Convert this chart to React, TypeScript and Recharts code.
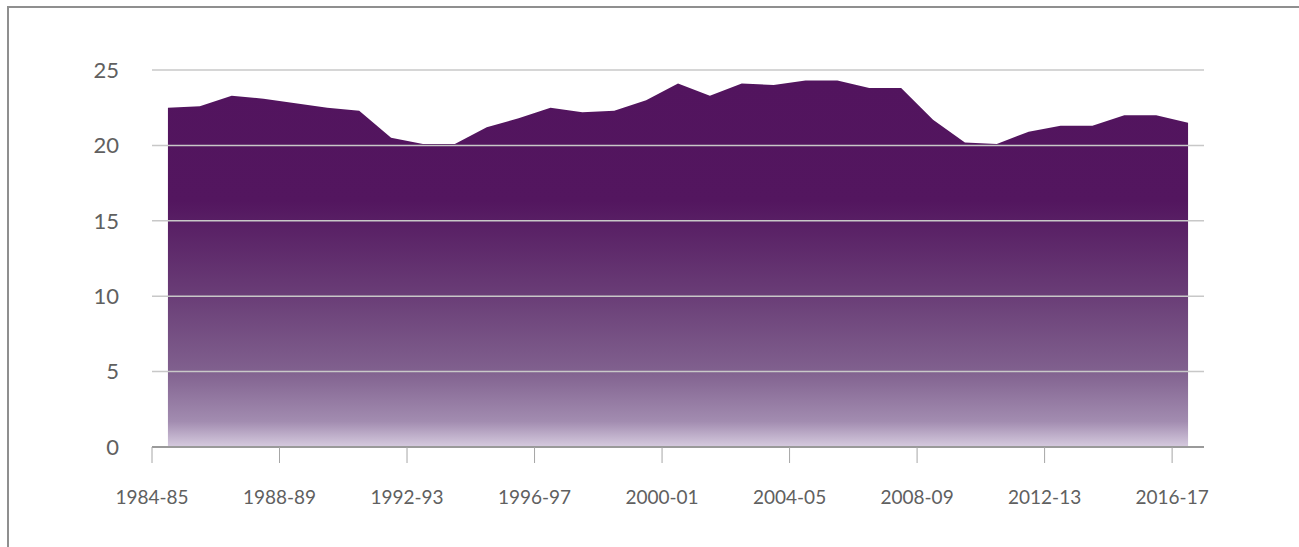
import React from 'react';
import { AreaChart, Area, XAxis, YAxis, ReferenceLine } from 'recharts';

const YEARS = [
  '1984-85', '1985-86', '1986-87', '1987-88', '1988-89', '1989-90', '1990-91', '1991-92',
  '1992-93', '1993-94', '1994-95', '1995-96', '1996-97', '1997-98', '1998-99', '1999-00',
  '2000-01', '2001-02', '2002-03', '2003-04', '2004-05', '2005-06', '2006-07', '2007-08',
  '2008-09', '2009-10', '2010-11', '2011-12', '2012-13', '2013-14', '2014-15', '2015-16',
  '2016-17',
];

const VALUES = [
  22.5, 22.6, 23.3, 23.1, 22.8, 22.5, 22.3, 20.5,
  20.1, 20.1, 21.2, 21.8, 22.5, 22.2, 22.3, 23.0,
  24.1, 23.3, 24.1, 24.0, 24.3, 24.3, 23.8, 23.8,
  21.7, 20.2, 20.1, 20.9, 21.3, 21.3, 22.0, 22.0,
  21.5,
];

const Y_TICKS = [0, 5, 10, 15, 20, 25];
// ticks sit on category boundaries, every fourth year
const X_TICKS = [-0.5, 3.5, 7.5, 11.5, 15.5, 19.5, 23.5, 27.5, 31.5];

const data = YEARS.map((year, i) => ({ idx: i, year, value: VALUES[i] }));

const FONT = 'Lato, "Open Sans", sans-serif';

export default function App() {
  return (
    <div style={{ position: 'absolute', left: 0, top: 0, width: 1299, height: 547, background: '#fff', overflow: 'hidden' }}>
      <div
        style={{
          position: 'absolute',
          left: 7,
          top: 6,
          right: 0,
          bottom: 0,
          borderTop: '2px solid #8f8f8f',
          borderLeft: '2px solid #8f8f8f',
        }}
      />
      <div style={{ position: 'absolute', left: 0, top: 0 }}>
        <AreaChart width={1299} height={547} data={data} margin={{ top: 70, right: 95, left: 0, bottom: 0 }}>
          <defs>
            <linearGradient id="areaFill" x1="0" y1="0" x2="0" y2="1">
              <stop offset="0%" stopColor="#52145e" />
              <stop offset="33%" stopColor="#53165f" />
              <stop offset="59%" stopColor="#6a3e77" />
              <stop offset="79%" stopColor="#80608e" />
              <stop offset="93%" stopColor="#a28cb0" />
              <stop offset="100%" stopColor="#d6cbdf" />
            </linearGradient>
          </defs>
          <XAxis
            type="number"
            dataKey="idx"
            domain={[-0.5, 32.5]}
            ticks={X_TICKS}
            interval={0}
            tickFormatter={(v: number) => YEARS[Math.round(v + 0.5)]}
            height={100}
            axisLine={{ stroke: '#9a9a9a', strokeWidth: 2 }}
            tickLine={{ stroke: '#a6a6a6', strokeWidth: 1 }}
            tickSize={16}
            tickMargin={28}
            tick={{ fill: '#606060', fontSize: 19, fontFamily: FONT }}
          />
          <YAxis
            domain={[0, 25]}
            ticks={Y_TICKS}
            width={152}
            axisLine={false}
            tickLine={false}
            tickSize={0}
            tickMargin={33}
            tick={{ fill: '#606060', fontSize: 22, fontFamily: FONT }}
          />
          <Area
            type="linear"
            dataKey="value"
            stroke="none"
            fill="url(#areaFill)"
            fillOpacity={1}
            isAnimationActive={false}
          />
          {Y_TICKS.filter((t) => t > 0).map((t) => (
            <ReferenceLine key={t} y={t} stroke="#c8c8c8" strokeWidth={1.5} />
          ))}
        </AreaChart>
      </div>
    </div>
  );
}
